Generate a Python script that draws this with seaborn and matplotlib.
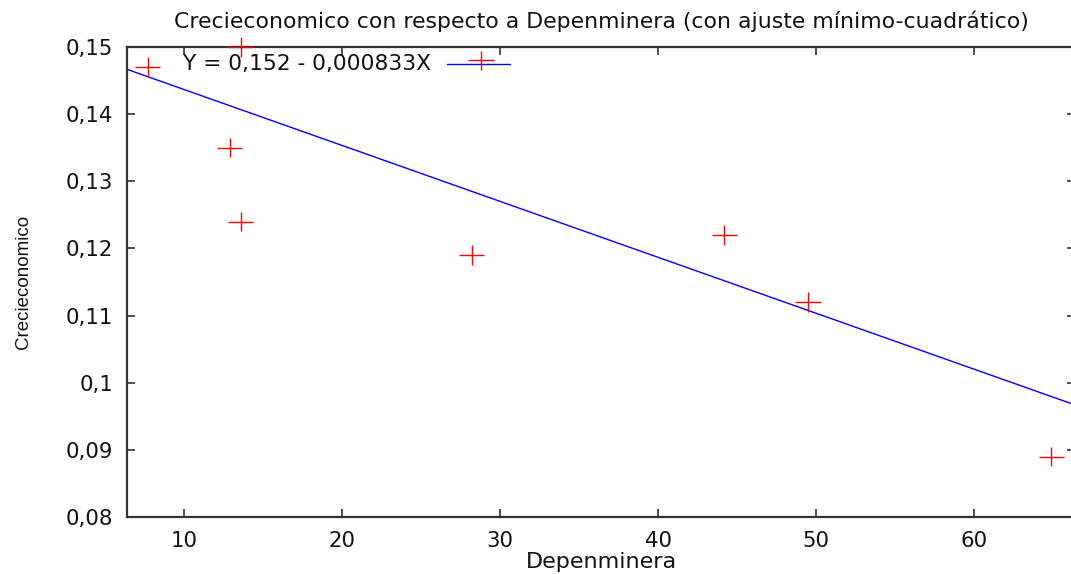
import numpy as np
import pandas as pd
import matplotlib
matplotlib.use("Agg")
import matplotlib.pyplot as plt
import seaborn as sns
from matplotlib.path import Path

# Data
depenminera = [7.7, 13.6, 12.9, 13.6, 28.2, 28.8, 44.2, 49.5, 64.9]
crecieconomico = [0.147, 0.150, 0.135, 0.124, 0.119, 0.148, 0.122, 0.112, 0.089]
intercept = 0.152
slope = -0.000833
fit_label = "Y = 0,152 - 0,000833X"
title = "Crecieconomico con respecto a Depenminera (con ajuste mínimo-cuadrático)"
xlabel = "Depenminera"
ylabel = "Crecieconomico"
xticks = [10, 20, 30, 40, 50, 60]
yticks = [0.08, 0.09, 0.10, 0.11, 0.12, 0.13, 0.14, 0.15]
ytick_labels = ["0,08", "0,09", "0,1", "0,11", "0,12", "0,13", "0,14", "0,15"]

sns.set_theme(style="white")
plt.rcParams['font.family'] = ['DejaVu Sans']

W, H = 1071, 574
fig = plt.figure(figsize=(W / 100, H / 100), dpi=100)
left_px, right_px, top_px, bottom_px = 127, 1075, 47, 517
ax = fig.add_axes([left_px / W, 1 - bottom_px / H, (right_px - left_px) / W, (bottom_px - top_px) / H])

x0 = 10 + (left_px - 184) / 15.8
x1 = 10 + (right_px - 184) / 15.8
ax.set_xlim(x0, x1)
ax.set_ylim(0.08, 0.15)

df = pd.DataFrame({"x": depenminera, "y": crecieconomico})
plus = Path([(-1.3, 0), (1.3, 0), (0, -1), (0, 1)],
            [Path.MOVETO, Path.LINETO, Path.MOVETO, Path.LINETO])
sns.scatterplot(data=df, x="x", y="y", ax=ax, marker=plus, s=330,
                facecolor="none", edgecolor="#ff0000", color="#ff0000",
                linewidth=1.0, legend=False, clip_on=False, zorder=3)

xs = np.array([x0, x1])
fit_df = pd.DataFrame({"x": xs, "y": intercept + slope * xs})
sns.lineplot(data=fit_df, x="x", y="y", ax=ax, color="#0000ff", linewidth=1.0,
             label=fit_label, legend=False)

# legend (gnuplot-like key)
ax.plot([447 / W, 510 / W], [1 - 64 / H, 1 - 64 / H], transform=fig.transFigure,
        color="#0000ff", linewidth=1.0)
fig.text(431 / W, 1 - 64 / H, fit_label, ha="right", va="center", fontsize=15.7,
         color="#111111")

ax.set_xticks(xticks)
ax.set_yticks(yticks)
ax.set_yticklabels(ytick_labels)
ax.tick_params(axis="both", direction="in", length=6, width=1.2, color="#333333",
               labelsize=15.3, top=True, right=True, bottom=True, left=True,
               labelcolor="#111111", pad=10)
ax.tick_params(axis="x", pad=10)

for side, sp in ax.spines.items():
    sp.set_color("#333333")
    sp.set_linewidth(1.6)

ax.set_title(title, fontsize=15.8, pad=14, color="#111111")
ax.set_xlabel(xlabel, fontsize=16, labelpad=1, color="#111111")
ax.set_ylabel(ylabel, fontsize=13.5, labelpad=24, color="#111111",
              family=["Liberation Sans Narrow", "Liberation Sans"])

fig.savefig("out.png", dpi=100)
